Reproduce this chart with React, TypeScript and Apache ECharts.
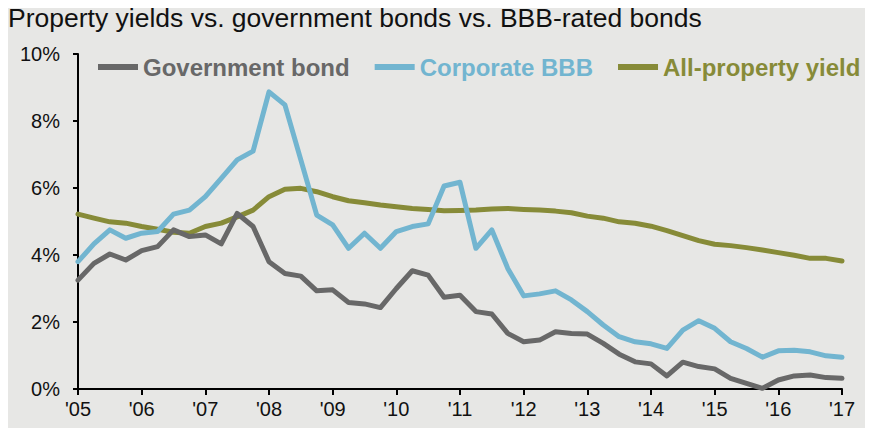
import React, { useEffect, useRef } from "react";
import * as echarts from "echarts";

const titleText = "Property yields vs. government bonds vs. BBB-rated bonds";
const seriesNames = ["Government bond", "Corporate BBB", "All-property yield"];
const startYear = 2005;
const endYear = 2017;

const governmentBond = [3.25, 3.75, 4.03, 3.85, 4.13, 4.25, 4.75, 4.55, 4.6, 4.33, 5.24, 4.85, 3.8, 3.45, 3.37, 2.93, 2.96, 2.58, 2.54, 2.43, 3.0, 3.53, 3.4, 2.74, 2.8, 2.31, 2.24, 1.66, 1.41, 1.46, 1.71, 1.66, 1.64, 1.36, 1.04, 0.81, 0.75, 0.39, 0.8, 0.67, 0.6, 0.32, 0.17, 0.02, 0.27, 0.39, 0.42, 0.34, 0.32];
const corporateBBB = [3.8, 4.33, 4.75, 4.5, 4.65, 4.7, 5.22, 5.34, 5.74, 6.29, 6.84, 7.1, 8.87, 8.48, 6.84, 5.19, 4.9, 4.2, 4.65, 4.2, 4.7, 4.85, 4.93, 6.06, 6.17, 4.2, 4.75, 3.6, 2.78, 2.84, 2.93, 2.66, 2.31, 1.91, 1.56, 1.41, 1.35, 1.21, 1.76, 2.04, 1.81, 1.41, 1.21, 0.95, 1.14, 1.16, 1.11, 0.99, 0.95];
const allPropertyYield = [5.22, 5.1, 4.99, 4.95, 4.85, 4.77, 4.68, 4.65, 4.85, 4.95, 5.14, 5.34, 5.74, 5.96, 5.99, 5.89, 5.74, 5.62, 5.56, 5.49, 5.44, 5.39, 5.36, 5.32, 5.33, 5.34, 5.37, 5.39, 5.36, 5.34, 5.31, 5.26, 5.16, 5.1, 4.99, 4.95, 4.86, 4.73, 4.58, 4.43, 4.32, 4.28, 4.22, 4.15, 4.07, 3.99, 3.9, 3.9, 3.82];

const colors = ["#686868", "#72b5d0", "#878b38"];

// quarterly categories 2005 Q1 .. 2017 Q1
const quarters: string[] = [];
for (let y = startYear; y <= endYear; y++) {
  for (let q = 1; q <= 4; q++) {
    if (y === endYear && q > 1) break;
    quarters.push(`${y} Q${q}`);
  }
}

const FONT = "Liberation Sans, Arial, sans-serif";

export default function App() {
  const ref = useRef<HTMLDivElement>(null);
  useEffect(() => {
    if (!ref.current) return;
    const chart = echarts.init(ref.current, null, { renderer: "svg" });
    const dataArr = [governmentBond, corporateBBB, allPropertyYield];
    const order = [2, 1, 0];
    chart.setOption({
      animation: false,
      backgroundColor: "#e7e7e5",
      textStyle: { fontFamily: FONT },
      title: {
        text: titleText,
        left: 0,
        top: 0,
        padding: [4, 0, 0, 0],
        textStyle: { fontFamily: FONT, fontSize: 26.5, fontWeight: "normal", color: "#111" },
      },
      legend: {
        left: 85,
        top: 50,
        itemWidth: 40,
        itemHeight: 6,
        itemGap: 25,
        icon: "rect",
        data: seriesNames.map((n, i) => ({
          name: n,
          textStyle: { color: colors[i], fontSize: 24, fontWeight: "bold", fontFamily: FONT },
        })),
      },
      grid: { left: 70, right: 31, top: 54, bottom: 39, containLabel: false },
      xAxis: {
        type: "category",
        data: quarters,
        boundaryGap: false,
        axisLine: { lineStyle: { color: "#000", width: 2 } },
        axisTick: { show: true, interval: 3, length: 6, lineStyle: { color: "#000", width: 2 } },
        axisLabel: {
          interval: 3,
          margin: 10,
          fontSize: 20,
          color: "#111",
          fontFamily: FONT,
          formatter: (v: string) => "'" + v.slice(2, 4),
        },
        splitLine: { show: false },
      },
      yAxis: {
        type: "value",
        min: 0,
        max: 10,
        interval: 2,
        axisLine: { show: true, lineStyle: { color: "#000", width: 2 } },
        axisTick: { show: true, length: 5, lineStyle: { color: "#000", width: 2 } },
        axisLabel: { formatter: "{value}%", fontSize: 20, color: "#111", margin: 18, fontFamily: FONT },
        splitLine: { show: false },
      },
      series: order.map((i) => ({
        name: seriesNames[i],
        type: "line",
        data: dataArr[i],
        symbol: "none",
        smooth: false,
        color: colors[i],
        lineStyle: { width: 5, color: colors[i], cap: "round", join: "round" },
      })),
    });
    return () => chart.dispose();
  }, []);
  return <div ref={ref} style={{ width: 865, height: 428, marginTop: -8 }} />;
}
